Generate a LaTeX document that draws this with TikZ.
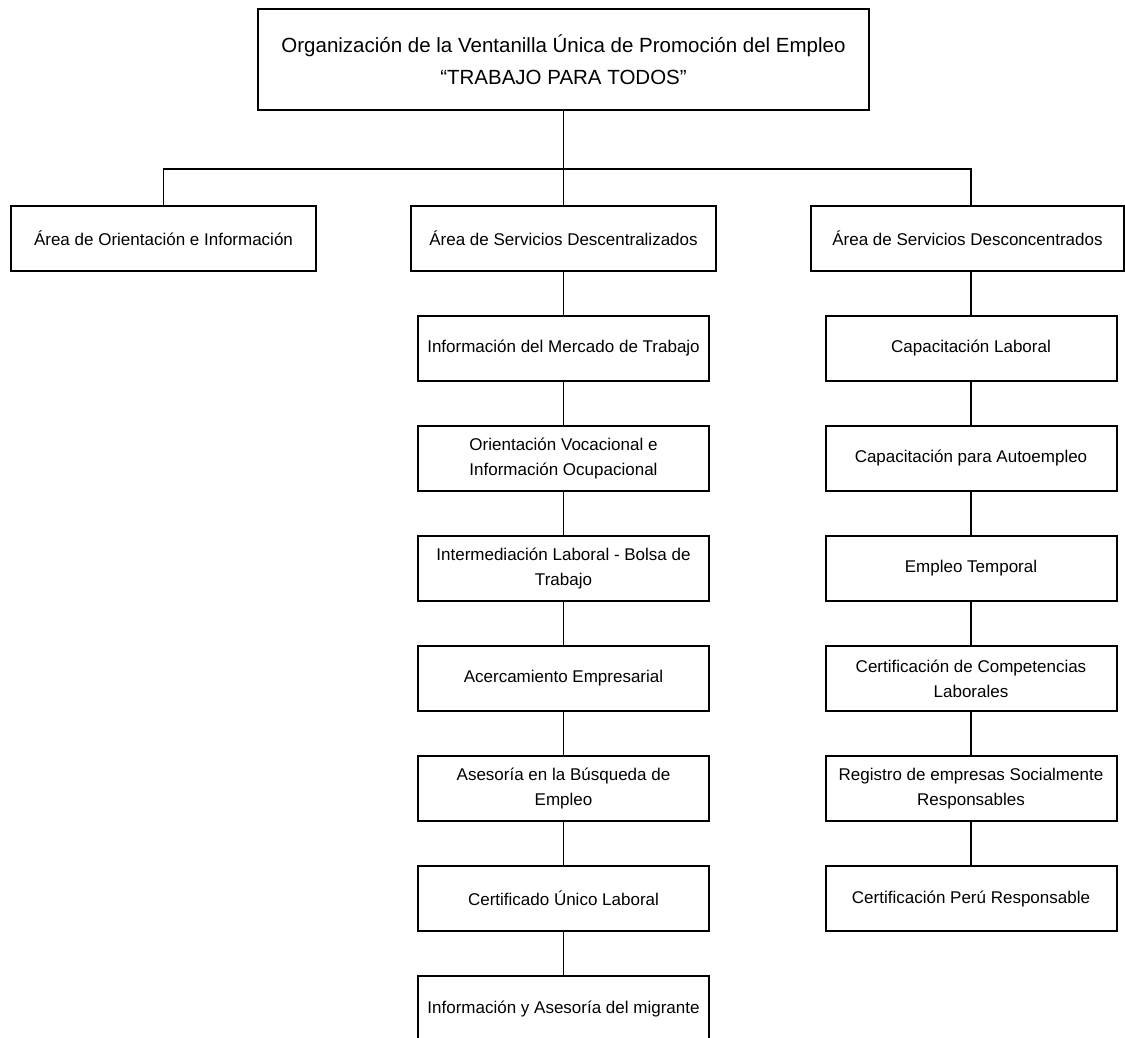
\documentclass[tikz,border=0pt]{standalone}
\usepackage{fontspec}
\setmainfont{Liberation Sans}
\usetikzlibrary{positioning}
\tikzstyle{line} = [draw, line width=1.6pt]
\tikzstyle{block} = [rectangle, draw, line width=2pt, text centered, align=center, minimum height=65pt, inner sep=2pt, font=\fontsize{17}{25}\selectfont]
\tikzstyle{area} = [block, minimum width=305pt]
\tikzstyle{service} = [block, minimum width=291pt]

\begin{document}
\begin{tikzpicture}[x=1pt, y=1pt, node distance=43pt]
\clip (0,0) rectangle (1125,-1038);
\node [block, minimum width=611pt, minimum height=101pt, font=\fontsize{20.5}{32}\selectfont] (title) at (563.5,-59.5) {Organización de la Ventanilla Única de Promoción del Empleo \\ “TRABAJO PARA TODOS”};
\node [area, below=94pt of title] (descentral) {Área de Servicios Descentralizados};
\node [area, left=93pt of descentral] (orientacion) {Área de Orientación e Información};
\node [area, right=93pt of descentral, minimum width=313pt] (desconcent) {Área de Servicios Desconcentrados};
% servicios descentralizados
\node [service, below=of descentral] (mercado) {Información del Mercado de Trabajo};
\node [service, below=of mercado] (vocacional) {Orientación Vocacional e \\ Información Ocupacional};
\node [service, below=of vocacional] (bolsa) {Intermediación Laboral - Bolsa de \\ Trabajo};
\node [service, below=of bolsa] (acercamiento) {Acercamiento Empresarial};
\node [service, below=of acercamiento] (asesoria) {Asesoría en la Búsqueda de \\ Empleo};
\node [service, below=of asesoria] (certificado) {Certificado Único Laboral};
\node [service, below=of certificado] (migrante) {Información y Asesoría del migrante};
% servicios desconcentrados
\node [service, below=of desconcent, xshift=3.5pt] (capacitacion) {Capacitación Laboral};
\node [service, below=of capacitacion] (autoempleo) {Capacitación para Autoempleo};
\node [service, below=of autoempleo] (temporal) {Empleo Temporal};
\node [service, below=of temporal] (competencias) {Certificación de Competencias \\ Laborales};
\node [service, below=of competencias] (registro) {Registro de empresas Socialmente \\ Responsables};
\node [service, below=of registro] (peru) {Certificación Perú Responsable};
\coordinate (bus) at (563.5,-169);
\path [line] (title) -- (bus);
\path [line] (bus) -- (descentral);
\path [line] (orientacion.north) |- (bus) -| (capacitacion.north |- desconcent.north);
\path [line] (descentral) -- (mercado);
\path [line] (mercado) -- (vocacional);
\path [line] (vocacional) -- (bolsa);
\path [line] (bolsa) -- (acercamiento);
\path [line] (acercamiento) -- (asesoria);
\path [line] (asesoria) -- (certificado);
\path [line] (certificado) -- (migrante);
\path [line] (capacitacion.north |- desconcent.south) -- (capacitacion);
\path [line] (capacitacion) -- (autoempleo);
\path [line] (autoempleo) -- (temporal);
\path [line] (temporal) -- (competencias);
\path [line] (competencias) -- (registro);
\path [line] (registro) -- (peru);
\end{tikzpicture}
\end{document}
